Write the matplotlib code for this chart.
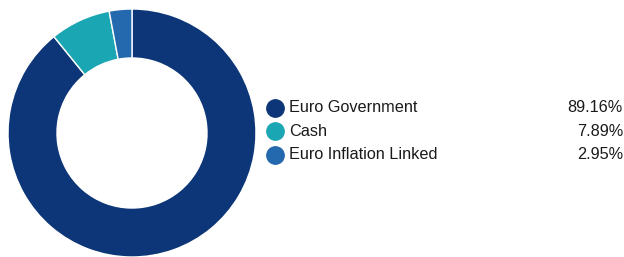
import matplotlib.pyplot as plt

plt.rcParams['font.family'] = ['Liberation Sans', 'DejaVu Sans']

# Datos del gráfico
labels = ['Euro Government', 'Cash', 'Euro Inflation Linked']
values = [89.16, 7.89, 2.95]
colors = ['#0c3677', '#1ba6b4', '#2469ad']

fig = plt.figure(figsize=(6.24, 2.57), dpi=100)

# Donut
ax = fig.add_axes([8 / 624, 0 / 257, 248 / 624, 248 / 257])
ax.pie(values, colors=colors, startangle=90, counterclock=False, radius=1,
       wedgeprops=dict(width=0.395, edgecolor='white', linewidth=1))
ax.set_xlim(-1, 1)
ax.set_ylim(-1, 1)
ax.set_aspect('equal')
ax.axis('off')

# Leyenda manual (coordenadas en píxeles)
lg = fig.add_axes([0, 0, 1, 1])
lg.set_xlim(0, 624)
lg.set_ylim(257, 0)
lg.axis('off')

y0, dy = 107.5, 23.7
for i, (lab, val, col) in enumerate(zip(labels, values, colors)):
    y = y0 + i * dy
    lg.plot(275, y, marker='o', markersize=12.5, color=col, linestyle='none')
    lg.text(289, y, lab, fontsize=11.7, va='center', ha='left', color='#1a1a1a')
    lg.text(623, y, f'{val:.2f}%', fontsize=11.7, va='center', ha='right', color='#1a1a1a')

fig.savefig('out.png', dpi=100)
